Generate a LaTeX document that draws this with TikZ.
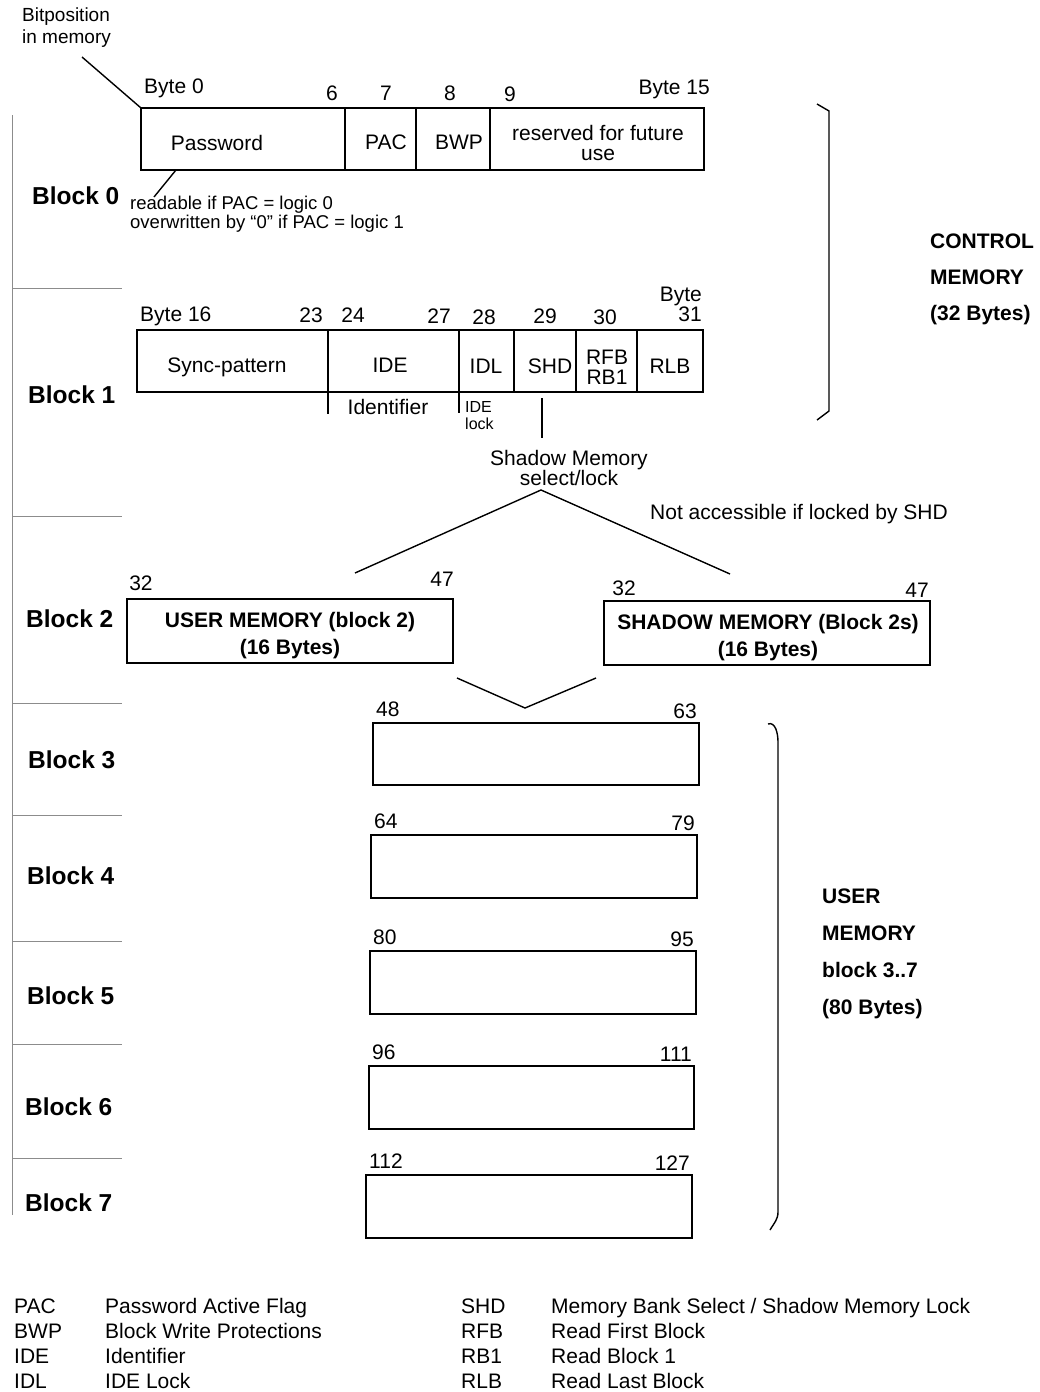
\documentclass[tikz,border=0pt]{standalone}
\usepackage{fontspec}
\setmainfont{Liberation Sans}
\usetikzlibrary{positioning}
\tikzset{
  box/.style={draw,line width=1.6pt},
  wire/.style={line width=1.4pt},
  sep/.style={draw=black!45,line width=0.8pt},
  txt/.style={inner sep=0pt,font=\fontsize{21}{20}\selectfont,align=center},
  lab/.style={txt,text height=17pt,text depth=2pt},
  note/.style={inner sep=0pt,font=\fontsize{18.5}{19}\selectfont,align=left},
  bold/.style={inner sep=0pt,font=\fontsize{21}{27}\selectfont\bfseries,align=center},
  blk/.style={inner sep=0pt,anchor=west,text height=19pt,text depth=1.5pt,
    font=\fontsize{24.5}{26}\selectfont\bfseries}
}

\begin{document}
\begin{tikzpicture}[x=1pt,y=-1pt]
\useasboundingbox (0,0) rectangle (1040,1392);
% left ruler
\draw[sep] (12,115) -- (12,1215);
\foreach \y in {288,516,703,815,941,1044,1158} \draw[sep] (12,\y) -- (122,\y);
% block 0
\node[note,anchor=west,font=\fontsize{19}{22}\selectfont] (bitpos) at (22,28) {Bitposition\\in memory};
\coordinate (b0nw) at (141,108);
\draw[box] (b0nw) rectangle (704,170);
\draw[box] (345,108) -- (345,170) (416,108) -- (416,170) (490,108) -- (490,170);
\draw[wire] (82,57) -- (b0nw);
\node[lab,anchor=west] (byte0) at (144,86) {Byte 0};
\node[lab] (n6) at (332,93) {6};
\node[lab] (n7) at (386,93) {7};
\node[lab] (n8) at (450,93) {8};
\node[lab] (n9) at (510,94) {9};
\node[lab,anchor=east] (byte15) at (710,87) {Byte 15};
\node[lab] (pw) at (217,143) {Password};
\node[lab] (pac) at (386,142) {PAC};
\node[lab] (bwp) at (459,142) {BWP};
\node[txt] (rsv) at (598,143) {reserved for future\\use};
\node[blk] (blk0) at (32,196) {Block 0};
\node[note,anchor=west] (pwnote) at (130,214) {readable if PAC = logic 0\\overwritten by “0” if PAC = logic 1};
\draw[wire] (176,170) -- (154,197);
% control memory
\draw[wire] (817,104) -- (829,111) -- (829,411) -- (817,420);
\node[bold,anchor=west,align=left,font=\fontsize{21}{36}\selectfont\bfseries] (ctrl) at (930,279) {CONTROL\\MEMORY\\(32 Bytes)};
% block 1
\draw[box] (137,330) rectangle (703,392);
\draw[box] (328,330) -- (328,392) (459,330) -- (459,392) (514,330) -- (514,392)
  (576,330) -- (576,392) (637,330) -- (637,392);
\node[lab,anchor=west] (byte16) at (140,314) {Byte 16};
\node[lab] (n23) at (311,315) {23};
\node[lab] (n24) at (353,315) {24};
\node[lab] (n27) at (439,316) {27};
\node[lab] (n28) at (484,317) {28};
\node[lab] (n29) at (545,316) {29};
\node[lab] (n30) at (605,317) {30};
\node[txt,anchor=east,align=right] (byte31) at (702,304) {Byte\\31};
\node[lab] (sync) at (227,365) {Sync-pattern};
\node[lab] (ide) at (390,365) {IDE};
\node[lab] (idl) at (486,366) {IDL};
\node[lab] (shd) at (550,366) {SHD};
\node[txt] (rfb) at (607,367) {RFB\\RB1};
\node[lab] (rlb) at (670,366) {RLB};
\node[blk] (blk1) at (28,395) {Block 1};
\draw[wire] (328,392) -- (328,414) (459,392) -- (459,413);
\node[lab] (ident) at (388,407) {Identifier};
\node[note,anchor=west,font=\fontsize{16}{17}\selectfont] (idelock) at (465,416) {IDE\\lock};
\coordinate (shdtop) at (542,398);
\coordinate (apex) at (541,490);
\draw[wire] (shdtop) -- (542,438);
\node[txt] (shadow) at (569,468) {Shadow Memory\\select/lock};
\node[lab,anchor=west] (notacc) at (650,512) {Not accessible if locked by SHD};
% block 2
\draw[box] (127,599) rectangle (453,663);
\draw[box] (604,601) rectangle (930,665);
\draw[wire] (355,573) -- (apex) -- (730,574);
\node[lab] (u32) at (141,583) {32};
\node[lab] (u47) at (442,579) {47};
\node[lab] (s32) at (624,588) {32};
\node[lab] (s47) at (917,590) {47};
\node[bold] (user2) at (290,636) {USER MEMORY (block 2)\\(16 Bytes)};
\node[bold] (shad2) at (768,638) {SHADOW MEMORY (Block 2s)\\(16 Bytes)};
\node[blk] (blk2) at (26,619) {Block 2};
\coordinate (vtip) at (525,708);
\draw[wire] (457,678) -- (vtip) -- (596,678);
% blocks 3..7
\foreach \i/\l/\t/\r/\b/\na/\nb/\ly/\lx in {3/373/723/699/785/48/63/760/28,
    4/371/835/697/898/64/79/876/27, 5/370/951/696/1014/80/95/996/27,
    6/369/1066/694/1129/96/111/1107/25, 7/366/1175/692/1238/112/127/1203/25}{
  \draw[box] (\l,\t) rectangle (\r,\b);
  \node[lab,anchor=west] (lo\i) at (\l+3,\t-14) {\na};
  \node[lab,anchor=east] (hi\i) at (\r-2,\t-12) {\nb};
  \node[blk] (blk\i) at (\lx,\ly) {Block \i};
}
\draw[wire] (768,724) to[out=20,in=90] (778,742) -- (778,1212) to[out=-90,in=60] (770,1230);
\node[bold,anchor=west,align=left,font=\fontsize{21}{37}\selectfont\bfseries] (usermem) at (822,954) {USER\\MEMORY\\block 3..7\\(80 Bytes)};
% legend
\foreach \a/\d/\y in {PAC/Password Active Flag/1306, BWP/Block Write Protections/1331,
    IDE/Identifier/1356, IDL/IDE Lock/1381}{
  \node[lab,anchor=west] (ka\a) at (14,\y) {\a};
  \node[lab,anchor=west] (kd\a) at (105,\y) {\d};
}
\foreach \a/\d/\y in {SHD/{Memory Bank Select / Shadow Memory Lock}/1306, RFB/Read First Block/1331,
    RB1/Read Block 1/1356, RLB/Read Last Block/1381}{
  \node[lab,anchor=west] (ka\a) at (461,\y) {\a};
  \node[lab,anchor=west] (kd\a) at (551,\y) {\d};
}
\end{tikzpicture}
\end{document}
